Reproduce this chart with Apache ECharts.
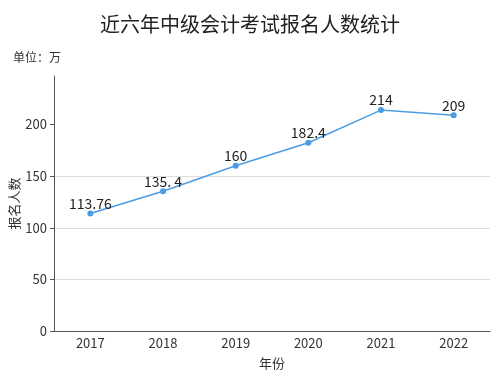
<!DOCTYPE html>
<html><head><meta charset="utf-8">
<script src="https://cdn.jsdelivr.net/npm/echarts@6/dist/echarts.min.js"></script>
<style>html,body{margin:0;padding:0;background:#fff}#c{width:500px;height:375px}</style>
</head><body><div id="c"></div>
<script>
const years = ['2017','2018','2019','2020','2021','2022'];
const applicants = [113.76, 135.4, 160, 182.4, 214, 209];
const pointLabels = ['113.76','135. 4','160','182.4','214','209'];
const yTicks = [0, 50, 100, 150, 200];

const FONT = '"Noto Sans CJK SC", "Noto Sans", sans-serif';
const chart = echarts.init(document.getElementById('c'), null, {renderer: 'canvas'});
chart.setOption({
  backgroundColor: '#fff',
  animation: false,
  textStyle: {fontFamily: FONT},
  title: [{
    text: '近六年中级会计考试报名人数统计',
    left: 'center', top: 9,
    textStyle: {fontSize: 20, fontWeight: 'normal', color: '#222', fontFamily: FONT}
  }, {
    text: '单位：万',
    left: 8, top: 46,
    textStyle: {fontSize: 12, fontWeight: 'normal', color: '#333', fontFamily: FONT}
  }],
  grid: {left: 54, right: 10, top: 76, bottom: 44, containLabel: false, outerBoundsMode: 'none'},
  xAxis: {
    type: 'category',
    data: years,
    boundaryGap: true,
    name: '年份', nameLocation: 'middle', nameGap: 26, nameMoveOverlap: false,
    nameTextStyle: {fontSize: 13, color: '#333', fontFamily: FONT},
    axisLine: {lineStyle: {color: '#555', width: 1}},
    axisTick: {alignWithLabel: true, length: 4, lineStyle: {color: '#555'}},
    axisLabel: {fontSize: 13, color: '#333', margin: 6, fontFamily: FONT}
  },
  yAxis: {
    type: 'value',
    min: 0, max: 247, interval: 50,
    name: '报名人数', nameLocation: 'middle', nameGap: 33, nameMoveOverlap: false,
    nameTextStyle: {fontSize: 13, color: '#333', fontFamily: FONT},
    axisLine: {show: true, lineStyle: {color: '#555', width: 1}},
    axisTick: {show: true, length: 4, lineStyle: {color: '#555'}, customValues: yTicks},
    axisLabel: {fontSize: 13, color: '#333', margin: 7, customValues: yTicks, fontFamily: FONT},
    splitLine: {show: true, showMaxLine: false, lineStyle: {color: '#dcdcdc', width: 1}}
  },
  series: [{
    type: 'line',
    data: applicants,
    symbol: 'circle', symbolSize: 6,
    itemStyle: {color: '#4a9de4'},
    lineStyle: {color: '#4a9de4', width: 1.5},
    label: {
      show: true, position: 'top', distance: 0,
      fontSize: 14, color: '#222', fontFamily: FONT,
      formatter: p => pointLabels[p.dataIndex]
    }
  }]
});
</script></body></html>
